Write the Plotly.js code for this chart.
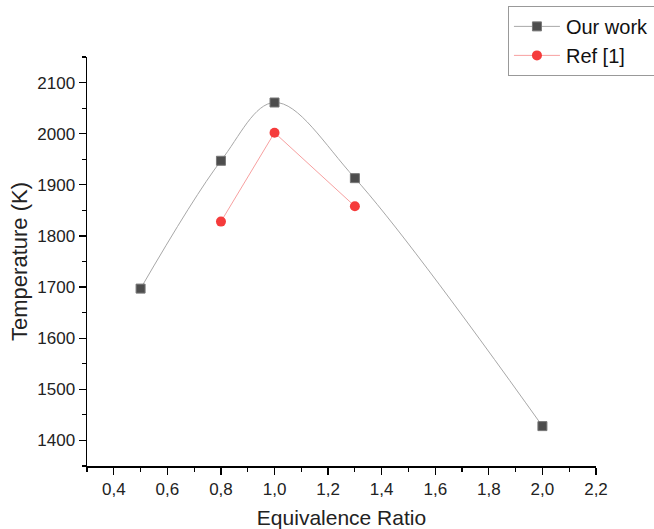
<!DOCTYPE html>
<html>
<head>
<meta charset="utf-8">
<script src="https://cdn.plot.ly/plotly-3.0.1.min.js"></script>
<style>html,body{margin:0;padding:0;background:#fff;overflow:hidden;}#chart{width:654px;height:529px;}</style>
</head>
<body>
<div id="chart"></div>
<script>
const ourX = [0.5, 0.8, 1.0, 1.3, 2.0];
const ourY = [1697, 1947, 2061, 1913, 1428];
const refX = [0.8, 1.0, 1.3];
const refY = [1828, 2002, 1858];
const seriesNames = ['Our work', 'Ref [1]'];
const xTitle = 'Equivalence Ratio';
const yTitle = 'Temperature (K)';

const font = 'Liberation Sans, Arial, sans-serif';
const traces = [
  {
    x: ourX, y: ourY, name: seriesNames[0], type: 'scatter', mode: 'lines+markers',
    line: {shape: 'spline', smoothing: 1, color: '#a8a8a8', width: 1},
    marker: {symbol: 'square', size: 9, color: '#4d4d4d', line: {color: '#777', width: 1}}
  },
  {
    x: refX, y: refY, name: seriesNames[1], type: 'scatter', mode: 'lines+markers',
    line: {color: '#f7a0a0', width: 1},
    marker: {symbol: 'circle', size: 10, color: '#f53b3b', line: {width: 0}}
  }
];
const axisCommon = {
  showgrid: false, zeroline: false, showline: true, linecolor: '#000', linewidth: 1.5,
  ticks: 'outside', ticklen: 7, tickwidth: 1.3, tickcolor: '#000',
  tickfont: {family: font, size: 17, color: '#222'},
  minor: {ticks: 'outside', ticklen: 4, tickwidth: 1.2, tickcolor: '#000'}
};
const layout = {
  width: 654, height: 529,
  margin: {l: 87, r: 58, t: 57, b: 63, autoexpand: false},
  paper_bgcolor: '#fff', plot_bgcolor: '#fff',
  separators: ', ',
  showlegend: true,
  xaxis: Object.assign({}, axisCommon, {
    range: [0.3, 2.2], dtick: 0.2, tick0: 0.4, tickformat: '.1f', automargin: false,
    minor: Object.assign({}, axisCommon.minor, {dtick: 0.1}),
    title: {text: xTitle, font: {family: font, size: 21, color: '#222'}, standoff: 14}
  }),
  yaxis: Object.assign({}, axisCommon, {
    range: [1350, 2150], dtick: 100, tick0: 1400, automargin: false,
    minor: Object.assign({}, axisCommon.minor, {dtick: 50}),
    title: {text: yTitle, font: {family: font, size: 22, color: '#222'}, standoff: 3}
  }),
  legend: {
    x: 0.827, y: 1.125, xanchor: 'left', yanchor: 'top',
    bgcolor: '#fff', bordercolor: '#999', borderwidth: 1,
    font: {family: font, size: 20, color: '#111'},
    tracegroupgap: 0, itemwidth: 47
  }
};
Plotly.newPlot('chart', traces, layout, {displayModeBar: false, staticPlot: true}).then(function () {
  document.querySelectorAll('#chart .legendlines path').forEach(function (p) {
    p.setAttribute('d', 'M5,0h46');
  });
  document.querySelectorAll('#chart .legendpoints .scatterpts').forEach(function (p) {
    p.setAttribute('transform', 'translate(28,0)');
  });
});
</script>
</body>
</html>
